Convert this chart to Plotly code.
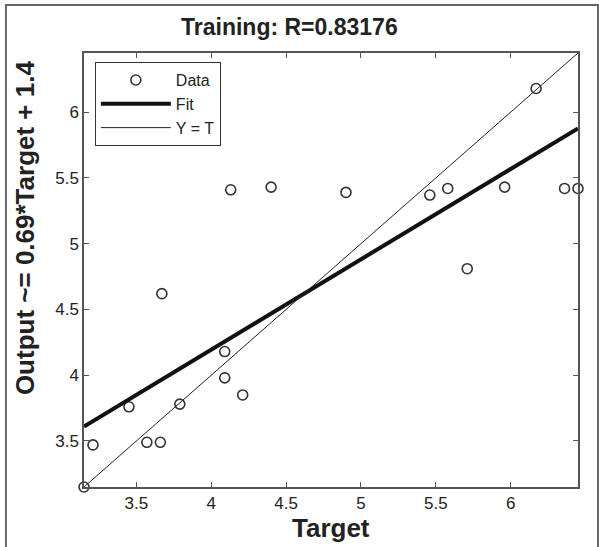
import plotly.graph_objects as go

# Data
target = [3.15, 3.21, 3.45, 3.57, 3.66, 3.67, 3.79, 4.09, 4.09, 4.13, 4.21,
          4.40, 4.90, 5.46, 5.58, 5.71, 5.96, 6.17, 6.36, 6.45]
output = [3.15, 3.47, 3.76, 3.49, 3.49, 4.62, 3.78, 4.18, 3.98, 5.41, 3.85,
          5.43, 5.39, 5.37, 5.42, 4.81, 5.43, 6.18, 5.42, 5.42]
fit_slope = 0.687
fit_intercept = 1.446
axis_range = [3.15, 6.45]
tick_vals = [3.5, 4, 4.5, 5, 5.5, 6]
tick_text = ["3.5", "4", "4.5", "5", "5.5", "6"]

title_text = "Training: R=0.83176"
x_title = "Target"
y_title = "Output ~= 0.69*Target + 1.4"

FONT = "Liberation Sans, Arial, sans-serif"
INK = "#222222"

line_x = axis_range
fit_y = [fit_slope * v + fit_intercept for v in line_x]

fig = go.Figure()
fig.add_trace(go.Scatter(
    x=target, y=output, mode="markers", name="Data",
    marker=dict(symbol="circle-open", size=10, color="#333333",
                line=dict(width=1.6, color="#333333")),
    cliponaxis=False,
))
fig.add_trace(go.Scatter(
    x=line_x, y=fit_y, mode="lines", name="Fit",
    line=dict(color="#111111", width=4),
))
fig.add_trace(go.Scatter(
    x=line_x, y=line_x, mode="lines", name="Y = T",
    line=dict(color="#222222", width=1),
))

axis_common = dict(
    range=axis_range, tickvals=tick_vals, ticktext=tick_text,
    showgrid=False, zeroline=False, showline=True, linecolor="#555555",
    linewidth=1.5, mirror="ticks", ticks="inside", ticklen=5,
    tickcolor="#555555", tickfont=dict(family=FONT, size=17, color=INK),
)
fig.update_xaxes(**axis_common)
fig.update_yaxes(**axis_common)

fig.update_layout(
    width=599, height=547,
    margin=dict(l=84, r=21, t=53, b=60),
    paper_bgcolor="white", plot_bgcolor="white",
    showlegend=True,
    legend=dict(
        x=0.022, y=0.979, xanchor="left", yanchor="top",
        bgcolor="white", bordercolor="#333333", borderwidth=1,
        font=dict(family=FONT, size=16, color=INK),
        itemwidth=70, tracegroupgap=0,
    ),
    annotations=[
        dict(text=f"<b>{title_text}</b>", xref="paper", yref="paper",
             x=0.415, y=1.06, xanchor="center", yanchor="middle",
             showarrow=False, font=dict(family=FONT, size=23, color=INK)),
        dict(text=f"<b>{x_title}</b>", xref="paper", yref="paper",
             x=0.5, y=-0.0945, xanchor="center", yanchor="middle",
             showarrow=False, font=dict(family=FONT, size=26, color=INK)),
        dict(text=f"<b>{y_title}</b>", xref="paper", yref="paper",
             x=-0.119, y=0.597, xanchor="center", yanchor="middle",
             textangle=-90,
             showarrow=False, font=dict(family=FONT, size=26, color=INK)),
    ],
    shapes=[
        dict(type="rect", xref="paper", yref="paper",
             x0=-0.158, x1=1.0405, y0=-0.2, y1=1.1106,
             line=dict(color="#666666", width=2), layer="below"),
    ],
)

fig.write_html("out.html")
